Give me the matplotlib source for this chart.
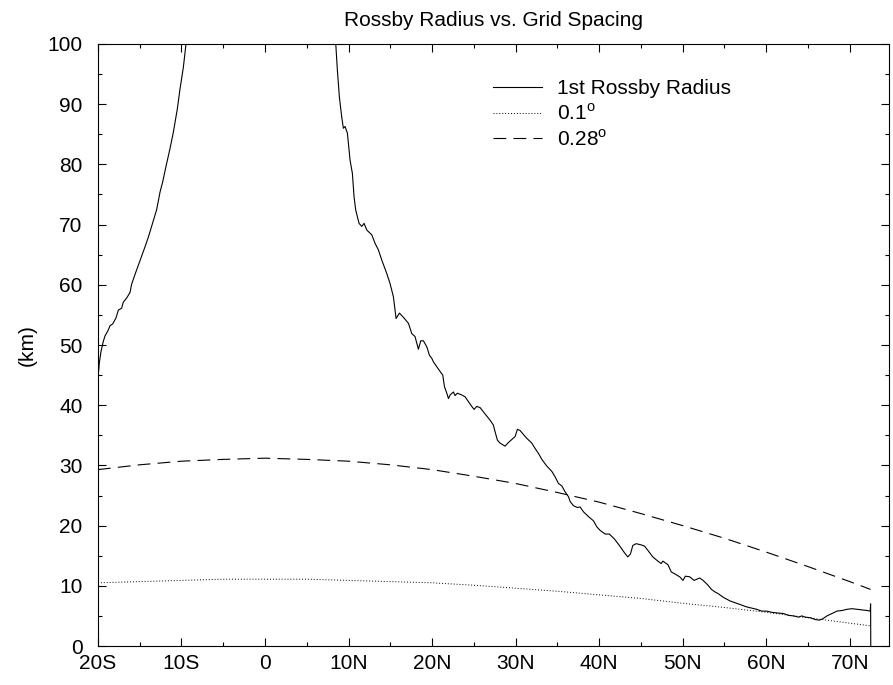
import numpy as np
import matplotlib
matplotlib.use("Agg")
import matplotlib.pyplot as plt

plt.rcParams['font.family'] = ['Liberation Sans', 'DejaVu Sans']
plt.rcParams['mathtext.fontset'] = 'custom'
plt.rcParams['mathtext.rm'] = 'Liberation Sans'

# 1st baroclinic Rossby radius (km), southern branch (up to where it leaves the plot)
lat_south = [-20.0, -19.98, -19.84, -19.64, -19.36, -19.16, -18.76, -18.56, -18.24,
             -17.84, -17.56, -17.17, -16.97, -16.57, -16.17, -15.97, -15.57, -14.97,
             -14.37, -13.97, -12.97, -12.57, -12.25, -11.85, -11.38, -10.98, -10.5,
             -10.18, -9.78, -9.46]
rr_south = [0.0, 44.7, 47.0, 48.9, 50.6, 51.5, 52.5, 53.2, 53.5,
            54.5, 55.8, 56.1, 57.1, 57.8, 58.7, 60.1, 61.7, 64.0,
            66.3, 67.9, 72.5, 75.4, 77.1, 79.7, 82.6, 85.3, 89.2,
            92.5, 96.1, 100.0]

# northern branch
lat_north = [8.47, 8.66, 8.9, 9.18, 9.38, 9.58, 9.86, 10.18, 10.46, 10.66, 10.86,
             11.26, 11.58, 11.86, 12.18, 12.78, 13.17, 13.57, 13.98, 14.57, 14.97,
             15.37, 15.69, 16.09, 16.57, 17.17, 17.57, 17.96, 18.36, 18.65, 18.96,
             19.37, 19.68, 19.96, 20.16, 20.56, 20.96, 21.28, 21.48, 21.76, 21.96,
             22.16, 22.55, 22.75, 23.03, 23.55, 23.95, 24.35, 24.75, 25.03, 25.35,
             25.75, 26.14, 26.55, 26.95, 27.34, 27.54, 27.82, 28.14, 28.74, 29.14,
             29.54, 29.94, 30.22, 30.54, 31.02, 31.34, 31.94, 32.34, 32.73, 33.14,
             33.73, 34.34, 34.73, 35.13, 35.53, 35.93, 36.33, 36.53, 36.93, 37.4,
             37.72, 38.12, 38.72, 39.32, 39.72, 40.12, 40.72, 41.22, 41.82, 42.42,
             43.03, 43.43, 43.75, 44.03, 44.43, 45.03, 45.43, 45.83, 46.43, 47.03,
             47.43, 47.63, 48.24, 48.64, 49.04, 49.64, 50.04, 50.32, 50.84, 51.36,
             52.04, 52.44, 52.97, 53.45, 53.85, 54.25, 54.85, 55.25, 55.65, 56.25,
             56.85, 57.66, 58.26, 58.86, 59.46, 60.06, 60.66, 61.26, 62.06, 62.67,
             63.27, 63.87, 64.27, 64.67, 65.27, 65.87, 66.35, 66.75, 67.27, 67.88,
             68.48, 69.08, 69.68, 70.28, 70.88, 71.48, 72.08, 72.45, 72.5, 72.52]
rr_north = [100.0, 95.7, 91.2, 87.9, 86.0, 86.3, 85.2, 80.7, 78.5, 74.6, 72.4,
            70.2, 69.7, 70.2, 69.1, 68.3, 66.9, 65.8, 64.1, 61.9, 60.2,
            58.0, 54.4, 55.3, 54.6, 53.6, 51.9, 51.4, 49.3, 50.7, 50.7,
            49.7, 48.3, 47.8, 47.2, 46.4, 45.6, 45.0, 43.1, 42.0, 41.1,
            41.7, 42.2, 41.6, 42.0, 41.7, 41.4, 40.6, 39.8, 39.3, 39.8,
            39.6, 38.9, 38.2, 37.5, 36.7, 35.6, 34.2, 33.7, 33.2, 33.8,
            34.3, 34.8, 36.0, 35.8, 35.0, 34.5, 33.7, 32.8, 32.0, 31.0,
            29.9, 29.0, 28.1, 27.0, 26.6, 25.6, 24.8, 24.0, 23.3, 23.0,
            23.1, 22.3, 21.5, 20.8, 19.8, 19.2, 18.6, 18.6, 17.8, 16.7,
            15.5, 14.8, 15.3, 16.7, 17.0, 16.8, 16.6, 15.9, 14.8, 14.1,
            13.7, 14.1, 13.5, 12.3, 12.0, 11.5, 10.9, 11.6, 11.5, 10.9,
            11.3, 10.9, 10.2, 9.4, 9.0, 8.7, 8.1, 7.8, 7.5, 7.2,
            6.9, 6.5, 6.3, 6.1, 5.8, 5.8, 5.6, 5.5, 5.4, 5.1,
            5.0, 4.8, 5.0, 4.8, 4.7, 4.4, 4.3, 4.5, 5.0, 5.4,
            5.8, 5.9, 6.1, 6.2, 6.1, 6.0, 5.9, 5.8, 7.0, 0.0]

# model grid spacing (km) for 0.1 and 0.28 degree grids
lat_grid = [-20, -15, -10, -5, 0, 5, 10, 15, 20, 25, 30, 35, 40, 45, 50, 55, 60, 65, 70, 72.5]
dx_01 = [10.5, 10.7, 10.9, 11.1, 11.1, 11.1, 10.9, 10.7, 10.5, 10.1, 9.6, 9.1, 8.5,
         7.9, 7.1, 6.4, 5.6, 4.7, 3.8, 3.35]
dx_028 = [29.3, 30.1, 30.7, 31.0, 31.2, 31.0, 30.7, 30.1, 29.3, 28.2, 27.0, 25.5, 23.9,
          22.0, 20.0, 17.9, 15.6, 13.2, 10.7, 9.4]

xticks = [-20, -10, 0, 10, 20, 30, 40, 50, 60, 70]
xticklabels = ['20S', '10S', '0', '10N', '20N', '30N', '40N', '50N', '60N', '70N']

fig = plt.figure(figsize=(8.93, 6.85), dpi=100)
ax = fig.add_axes([0.1097, 0.0569, 0.8858, 0.8789])

ax.plot(lat_south, rr_south, color='black', lw=0.8, label='1st Rossby Radius')
ax.plot(lat_north, rr_north, color='black', lw=0.8)
ax.plot(lat_grid, dx_01, color='black', lw=0.7, linestyle=(0, (1, 2)), label='0.1$^{\\rm o}$')
ax.plot(lat_grid, dx_028, color='black', lw=0.8, linestyle=(0, (11.5, 6.5)), label='0.28$^{\\rm o}$')

ax.set_xlim(-20, 74.7)
ax.set_ylim(0, 100)
ax.set_xticks(xticks)
ax.set_xticklabels(xticklabels)
ax.set_xticks(np.arange(-15, 75, 10), minor=True)
ax.set_yticks(np.arange(0, 101, 10))
ax.set_yticks(np.arange(5, 100, 10), minor=True)
ax.tick_params(which='both', direction='in', top=True, right=True, width=0.8, labelsize=15)
ax.tick_params(which='major', length=5.5, pad=6)
ax.tick_params(which='minor', length=3)
ax.tick_params(axis='y', pad=11)
for s in ax.spines.values():
    s.set_linewidth(0.8)

ax.set_title('Rossby Radius vs. Grid Spacing', fontsize=15, pad=13)
ax.set_ylabel('(km)', fontsize=15, labelpad=8)

ax.legend(loc='upper left', bbox_to_anchor=(0.4994, 0.942), frameon=False, fontsize=15,
          borderpad=0, borderaxespad=0, handlelength=2.36, handletextpad=0.72,
          labelspacing=0.25)

fig.savefig('out.png', dpi=100)
